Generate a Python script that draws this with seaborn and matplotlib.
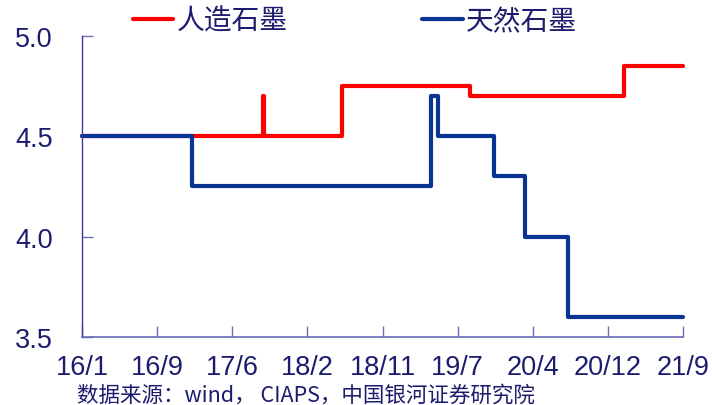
import numpy as np
import pandas as pd
import matplotlib
matplotlib.use("Agg")
import matplotlib.pyplot as plt
import seaborn as sns

# ---- data ----
series_names = ["人造石墨", "天然石墨"]
artificial_dates = ["2016-01-01", "2017-09-17", "2017-09-18", "2018-06-14",
                    "2019-08-28", "2021-02-10", "2021-09-01"]
artificial_values = [4.5, 4.7, 4.5, 4.75, 4.7, 4.85, 4.85]
natural_dates = ["2016-01-01", "2017-01-16", "2019-04-17", "2019-05-08",
                 "2019-11-18", "2020-03-06", "2020-08-01", "2021-09-01"]
natural_values = [4.5, 4.25, 4.7, 4.5, 4.3, 4.0, 3.6, 3.6]
x_tick_labels = ["16/1", "16/9", "17/6", "18/2", "18/11", "19/7", "20/4", "20/12", "21/9"]
y_ticks = [3.5, 4.0, 4.5, 5.0]
source_text = "数据来源：wind， CIAPS，中国银河证券研究院"


def to_month_index(dates):
    d = pd.to_datetime(pd.Series(dates))
    return ((d.dt.year - 2016) * 12 + (d.dt.month - 1)
            + (d.dt.day - 1) / d.dt.days_in_month).to_numpy()


df = pd.concat([
    pd.DataFrame({"x": to_month_index(artificial_dates), "value": artificial_values,
                  "series": series_names[0]}),
    pd.DataFrame({"x": to_month_index(natural_dates), "value": natural_values,
                  "series": series_names[1]}),
], ignore_index=True)

sns.set_theme(style="white")
plt.rcParams["font.family"] = ["Liberation Sans", "Noto Sans CJK SC", "DejaVu Sans"]

text_color = "#1c1c6e"
axis_color = "#6b6bb8"

fig = plt.figure(figsize=(7.12, 4.06), dpi=100)
ax = fig.add_axes([82 / 712, 1 - 338 / 406, (683 - 82) / 712, (338 - 37) / 406])

sns.lineplot(data=df, x="x", y="value", hue="series", hue_order=series_names,
             palette={series_names[0]: "#ff0000", series_names[1]: "#0a3494"},
             drawstyle="steps-post", estimator=None, sort=False, linewidth=3.0,
             ax=ax, legend=True)
for ln in ax.get_lines():
    ln.set_solid_capstyle("round")
    ln.set_solid_joinstyle("round")
    ln.set_clip_on(False)

ax.set_xlim(0, 68)
ax.set_ylim(3.5, 5.0)
ax.set_xticks(np.linspace(0, 68, len(x_tick_labels)))
ax.set_xticklabels(x_tick_labels)
ax.set_yticks(y_ticks)
ax.set_yticklabels([f"{v:.1f}" for v in y_ticks])
ax.set_xlabel("")
ax.set_ylabel("")

for s in ["top", "right"]:
    ax.spines[s].set_visible(False)
ax.spines["left"].set_color("#3a3aa0")
ax.spines["bottom"].set_color(axis_color)
ax.spines["left"].set_linewidth(1.0)
ax.spines["bottom"].set_linewidth(1.2)

ax.tick_params(axis="x", direction="in", length=8, width=1, color=axis_color,
               labelsize=19.5, labelcolor=text_color, pad=12)
ax.tick_params(axis="y", direction="in", length=8, width=1, color=axis_color,
               labelsize=19.5, labelcolor=text_color, pad=21)
ax.tick_params(axis="both", which="both", bottom=True, left=True)

handles, labels = ax.get_legend_handles_labels()
ax.legend(handles, labels, loc="center left", bbox_to_anchor=(133 / 712, 1 - 22 / 406),
          bbox_transform=fig.transFigure, ncol=2, frameon=False,
          prop={"family": ["Noto Sans CJK SC"], "size": 20},
          labelcolor=text_color, handlelength=1.45, handletextpad=0.12,
          columnspacing=4.85, borderpad=0, borderaxespad=0)

fig.text(77 / 712, 1 - 396 / 406, source_text, fontsize=15.5, color=text_color,
         ha="left", va="center", family=["Noto Sans CJK SC", "DejaVu Sans"])

fig.savefig("out.png", dpi=100)
